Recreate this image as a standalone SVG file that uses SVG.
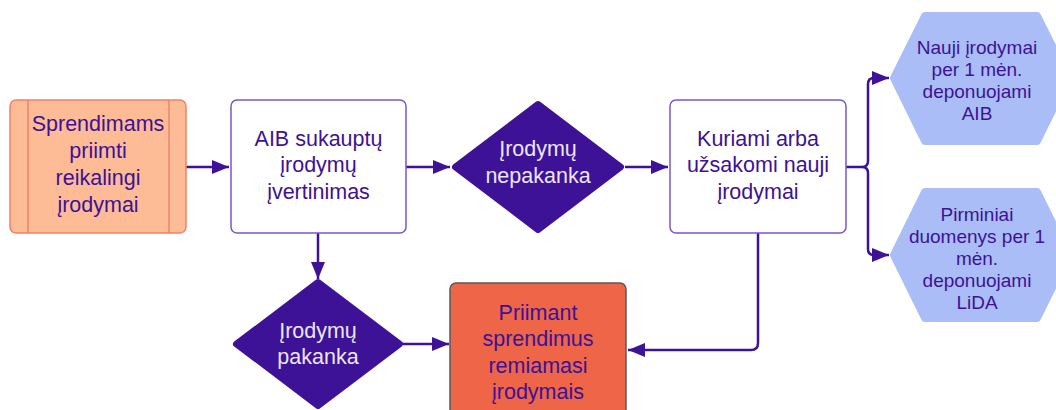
<svg xmlns="http://www.w3.org/2000/svg" width="1056" height="410" viewBox="0 0 1056 410">
<style>
text{font-family:"Liberation Sans",Arial,sans-serif;text-anchor:middle;fill:#3D1296;font-size:21.5px}
.light{fill:#EDE6F7}
.hex text{font-size:19px}
.conn{fill:none;stroke:#3D1296;stroke-width:2.5}
.box{fill:#fff;stroke:#7B55CC;stroke-width:1.5}
.dia{fill:#3D1296;stroke:#3D1296;stroke-width:6;stroke-linejoin:round}
.hexs{fill:#AABDF6;stroke:#AABDF6;stroke-width:8;stroke-linejoin:round}
</style>
<defs>
<marker id="ah" markerUnits="userSpaceOnUse" markerWidth="18" markerHeight="14" refX="17" refY="7" orient="auto">
<path d="M0,0 L17,7 L0,14 z" fill="#3D1296"/>
</marker>
</defs>
<rect width="1056" height="410" fill="#fff"/>
<g id="connectors">
<path class="conn" d="M186,167 H229" marker-end="url(#ah)"/>
<path class="conn" d="M406,167 H450" marker-end="url(#ah)"/>
<path class="conn" d="M625,167 H668" marker-end="url(#ah)"/>
<path class="conn" d="M318,233 V279" marker-end="url(#ah)"/>
<path class="conn" d="M403,344 H449" marker-end="url(#ah)"/>
<path class="conn" d="M758,233 V343 Q758,350 751,350 H628" marker-end="url(#ah)"/>
<path class="conn" d="M846,167 H862 Q868,167 868,161 V84 Q868,78 874,78 H889" marker-end="url(#ah)"/>
<path class="conn" d="M862,167 Q868,167 868,173 V249 Q868,255 874,255 H889" marker-end="url(#ah)"/>
</g>
<g id="n1">
<rect x="10" y="100" width="176" height="133" rx="6" fill="#FDBB96" stroke="#F0826A" stroke-width="1.5"/>
<line x1="28" y1="100" x2="28" y2="233" stroke="#F0826A" stroke-width="1.5"/>
<line x1="169" y1="100" x2="169" y2="233" stroke="#F0826A" stroke-width="1.5"/>
<text x="98" y="131">Sprendimams</text>
<text x="98" y="158">priimti</text>
<text x="98" y="185">reikalingi</text>
<text x="98" y="212">įrodymai</text>
</g>
<g id="n2">
<rect class="box" x="231" y="100" width="175" height="133" rx="6"/>
<text x="318.5" y="145.5">AIB sukauptų</text>
<text x="318.5" y="172">įrodymų</text>
<text x="318.5" y="198.5">įvertinimas</text>
</g>
<g id="n3">
<polygon class="dia" points="455,167 538,104 621,167 538,230"/>
<text class="light" x="538" y="155.5">Įrodymų</text>
<text class="light" x="538" y="182.5">nepakanka</text>
</g>
<g id="n4">
<rect class="box" x="670" y="100" width="176" height="133" rx="6"/>
<text x="758" y="145.5">Kuriami arba</text>
<text x="758" y="172">užsakomi nauji</text>
<text x="758" y="198.5">įrodymai</text>
</g>
<g id="n5" class="hex">
<polygon class="hexs" points="894,78 925,16 1037,16 1068,78 1037,141 925,141"/>
<text x="977" y="53.7">Nauji įrodymai</text>
<text x="977" y="75.7">per 1 mėn.</text>
<text x="977" y="97.7">deponuojami</text>
<text x="977" y="119.7">AIB</text>
</g>
<g id="n6" class="hex">
<polygon class="hexs" points="894,255 925,192 1037,192 1068,255 1037,318 925,318"/>
<text x="977" y="220.7">Pirminiai</text>
<text x="977" y="242.7">duomenys per 1</text>
<text x="977" y="264.7">mėn.</text>
<text x="977" y="286.7">deponuojami</text>
<text x="977" y="308.7">LiDA</text>
</g>
<g id="n7">
<polygon class="dia" points="236,344 318,282 400,344 318,406"/>
<text class="light" x="318" y="337.5">Įrodymų</text>
<text class="light" x="318" y="363.5">pakanka</text>
</g>
<g id="n8">
<rect x="450" y="283" width="176" height="140" rx="6" fill="#EE6548" stroke="#5A5A5A" stroke-width="1.5"/>
<text x="538" y="319.5">Priimant</text>
<text x="538" y="346">sprendimus</text>
<text x="538" y="372.5">remiamasi</text>
<text x="538" y="399">įrodymais</text>
</g>
</svg>
